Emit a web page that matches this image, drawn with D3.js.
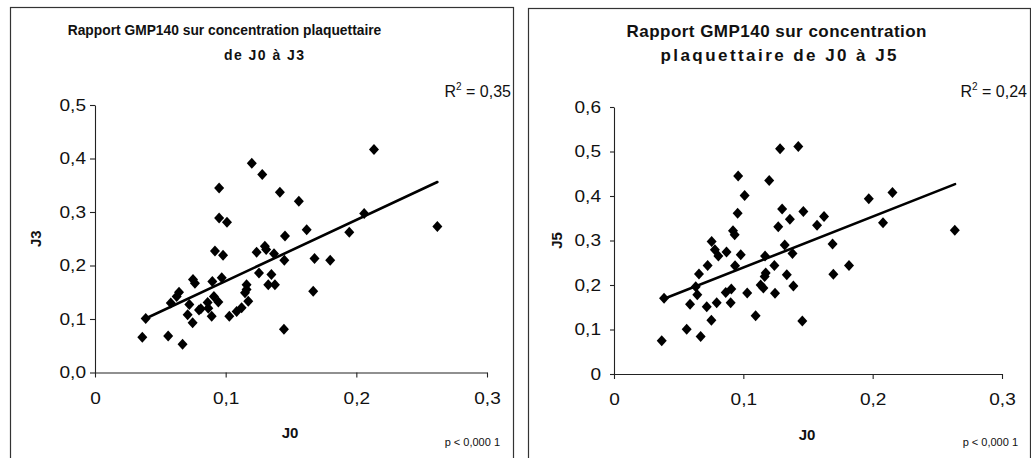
<!DOCTYPE html>
<html>
<head>
<meta charset="utf-8">
<script src="https://cdn.jsdelivr.net/npm/d3@7"></script>
<style>
  html, body { margin: 0; padding: 0; background: #fff; }
  svg { display: block; }
</style>
</head>
<body>
<svg id="chart" width="1031" height="458"></svg>
<script>
// ---------- DATA ----------
// Left chart: J0 vs J3
const j0Left = [0.0362, 0.0388, 0.056, 0.058, 0.0643, 0.0625, 0.067, 0.0709, 0.0722, 0.0747,
  0.075, 0.0765, 0.0796, 0.081, 0.0862, 0.0867, 0.0898, 0.091, 0.0893, 0.0944,
  0.0918, 0.095, 0.095, 0.097, 0.098, 0.101, 0.1028, 0.1084, 0.1122, 0.1148,
  0.116, 0.116, 0.1173, 0.120, 0.1237, 0.1255, 0.128, 0.130, 0.131, 0.1326,
  0.135, 0.137, 0.1377, 0.1415, 0.1449, 0.1446, 0.1454, 0.156, 0.162, 0.167,
  0.168, 0.180, 0.1946, 0.206, 0.2135, 0.262];
const j3 = [0.066, 0.101, 0.068, 0.130, 0.150, 0.142, 0.053, 0.108, 0.127, 0.093,
  0.174, 0.167, 0.117, 0.119, 0.131, 0.120, 0.170, 0.142, 0.105, 0.132,
  0.227, 0.345, 0.289, 0.177, 0.219, 0.281, 0.105, 0.114, 0.121, 0.149,
  0.155, 0.164, 0.133, 0.391, 0.225, 0.186, 0.370, 0.236, 0.230, 0.164,
  0.183, 0.222, 0.164, 0.337, 0.210, 0.081, 0.255, 0.320, 0.267, 0.152,
  0.213, 0.210, 0.262, 0.297, 0.417, 0.273];
const trendLeft = [[0.0388, 0.101], [0.262, 0.356]];

// Right chart: J0 vs J5
const j0Right = [0.0369, 0.0387, 0.0562, 0.0588, 0.0644, 0.0632, 0.0657, 0.067, 0.0717, 0.0724,
  0.0753, 0.0755, 0.078, 0.0794, 0.0807, 0.087, 0.0864, 0.0902, 0.0907, 0.092,
  0.0933, 0.0936, 0.0956, 0.096, 0.098, 0.101, 0.103, 0.1095, 0.1134, 0.1155,
  0.1173, 0.1165, 0.1168, 0.120, 0.124, 0.1245, 0.127, 0.1284, 0.130, 0.132,
  0.1336, 0.136, 0.138, 0.1387, 0.1425, 0.1456, 0.1464, 0.157, 0.1624, 0.169,
  0.1696, 0.1817, 0.197, 0.208, 0.2153, 0.2635];
const j5 = [0.075, 0.170, 0.1005, 0.157, 0.178, 0.196, 0.225, 0.084, 0.151, 0.244,
  0.121, 0.298, 0.279, 0.160, 0.265, 0.274, 0.183, 0.160, 0.191, 0.322,
  0.313, 0.243, 0.361, 0.445, 0.268, 0.401, 0.182, 0.131, 0.200, 0.193,
  0.227, 0.219, 0.265, 0.435, 0.244, 0.1815, 0.331, 0.506, 0.371, 0.290,
  0.223, 0.348, 0.271, 0.198, 0.511, 0.119, 0.365, 0.334, 0.354, 0.292,
  0.224, 0.244, 0.394, 0.340, 0.408, 0.323];
const trendRight = [[0.0387, 0.169], [0.2637, 0.4267]];

const xTicks = [0, 0.1, 0.2, 0.3];
const xTickLabels = ["0", "0,1", "0,2", "0,3"];
const yTicksLeft = [0, 0.1, 0.2, 0.3, 0.4, 0.5];
const yTickLabelsLeft = ["0,0", "0,1", "0,2", "0,3", "0,4", "0,5"];
const yTicksRight = [0, 0.1, 0.2, 0.3, 0.4, 0.5, 0.6];
const yTickLabelsRight = ["0", "0,1", "0,2", "0,3", "0,4", "0,5", "0,6"];

const titleLeft = ["Rapport GMP140 sur concentration plaquettaire", "de J0 à J3"];
const titleRight = ["Rapport GMP140 sur concentration", "plaquettaire de J0 à J5"];

// ---------- DRAWING ----------
const FONT = "'Liberation Sans', Arial, Helvetica, sans-serif";
const svg = d3.select("#chart");

function stretch(sel, k) {
  sel.each(function () {
    const w = this.getComputedTextLength();
    d3.select(this).attr("textLength", w * k).attr("lengthAdjust", "spacingAndGlyphs");
  });
}

function panel(cfg) {
  const g = svg.append("g");
  // frame
  g.append("rect")
    .attr("x", cfg.frame[0] + 0.5).attr("y", cfg.frame[1] + 0.5)
    .attr("width", cfg.frame[2] - cfg.frame[0]).attr("height", cfg.frame[3] - cfg.frame[1])
    .attr("fill", "none").attr("stroke", "#333").attr("stroke-width", 1.2);

  const x = d3.scaleLinear().domain([0, 0.3]).range([cfg.plot[0], cfg.plot[1]]);
  const y = d3.scaleLinear().domain([0, cfg.yMax]).range([cfg.plot[3], cfg.plot[2]]);

  // titles
  cfg.title.forEach((t, i) => {
    const p = cfg.titlePos[i];
    const el = g.append("text")
      .attr("x", p[0]).attr("y", p[1])
      .attr("text-anchor", "middle")
      .attr("font-family", FONT).attr("font-weight", "bold")
      .attr("font-size", p[3])
      .attr("fill", "#111")
      .text(t);
    if (p[2]) el.attr("textLength", p[2]).attr("lengthAdjust", "spacing");
  });

  // R² label
  const r = g.append("text")
    .attr("x", cfg.r2Pos[0]).attr("y", cfg.r2Pos[1])
    .attr("text-anchor", "end")
    .attr("font-family", FONT).attr("font-size", 16).attr("fill", "#111");
  r.append("tspan").text("R");
  r.append("tspan").attr("font-size", 10).attr("dy", -7).text("2");
  r.append("tspan").attr("dy", 7).text(" = " + cfg.r2);

  // axes
  const xAxis = d3.axisBottom(x).tickValues(xTicks)
    .tickFormat((d, i) => xTickLabels[i]).tickSize(5).tickPadding(14).tickSizeOuter(0);
  const yAxis = d3.axisLeft(y).tickValues(cfg.yTicks)
    .tickFormat((d, i) => cfg.yLabels[i]).tickSize(cfg.yTickSize).tickPadding(cfg.yPad).tickSizeOuter(0);

  const gx = g.append("g").attr("transform", `translate(0,${cfg.plot[3]})`).call(xAxis);
  const gy = g.append("g").attr("transform", `translate(${cfg.plot[0]},0)`).call(yAxis);
  [gx, gy].forEach(a => {
    a.selectAll("path, line").attr("stroke", "#222").attr("stroke-width", 1.1);
    a.selectAll("text").attr("font-family", FONT).attr("font-size", 17).attr("fill", "#111");
  });
  stretch(gx.selectAll("text"), 1.12);
  stretch(gy.selectAll("text"), 1.12);

  // axis titles
  g.append("text")
    .attr("x", (cfg.plot[0] + cfg.plot[1]) / 2 - 1).attr("y", cfg.xTitleY)
    .attr("text-anchor", "middle").attr("font-family", FONT)
    .attr("font-weight", "bold").attr("font-size", 15).attr("fill", "#111")
    .text("J0");
  g.append("text")
    .attr("transform", `translate(${cfg.yTitleX},${(cfg.plot[2] + cfg.plot[3]) / 2}) rotate(-90)`)
    .attr("text-anchor", "middle").attr("font-family", FONT)
    .attr("font-weight", "bold").attr("font-size", 15).attr("fill", "#111")
    .text(cfg.yName);

  // p-value
  g.append("text")
    .attr("x", cfg.pPos[0]).attr("y", cfg.pPos[1])
    .attr("text-anchor", "end").attr("font-family", FONT)
    .attr("font-size", 11).attr("fill", "#111")
    .text("p < 0,000 1");

  // trend line
  g.append("line")
    .attr("x1", x(cfg.trend[0][0])).attr("y1", y(cfg.trend[0][1]))
    .attr("x2", x(cfg.trend[1][0])).attr("y2", y(cfg.trend[1][1]))
    .attr("stroke", "#000").attr("stroke-width", 2.6).attr("stroke-linecap", "round");

  // points
  const pts = cfg.xs.map((v, i) => [v, cfg.ys[i]]);
  g.append("g").selectAll("path").data(pts).join("path")
    .attr("transform", d => `translate(${x(d[0])},${y(d[1])})`)
    .attr("d", "M0,-5.5L5,0L0,5.5L-5,0Z")
    .attr("fill", "#000");
}

panel({
  frame: [10, 7, 513, 470],
  plot: [95, 487, 105, 372.5],
  yMax: 0.5,
  yTicks: yTicksLeft, yLabels: yTickLabelsLeft,
  yTickSize: 5, yPad: 4,
  title: titleLeft,
  titlePos: [[224.5, 35, 0, 13.8], [264, 60, 80, 14]],
  r2Pos: [511, 97], r2: "0,35",
  xTitleY: 438, yTitleX: 41, yName: "J3",
  pPos: [500, 446],
  trend: trendLeft,
  xs: j0Left, ys: j3
});

panel({
  frame: [528, 8, 1030, 470],
  plot: [614, 1002, 107, 374],
  yMax: 0.6,
  yTicks: yTicksRight, yLabels: yTickLabelsRight,
  yTickSize: 4, yPad: 9,
  title: titleRight,
  titlePos: [[776.5, 37, 300, 17], [778.5, 61, 236, 17]],
  r2Pos: [1027, 97], r2: "0,24",
  xTitleY: 440, yTitleX: 562, yName: "J5",
  pPos: [1018, 446],
  trend: trendRight,
  xs: j0Right, ys: j5
});
</script>
</body>
</html>
